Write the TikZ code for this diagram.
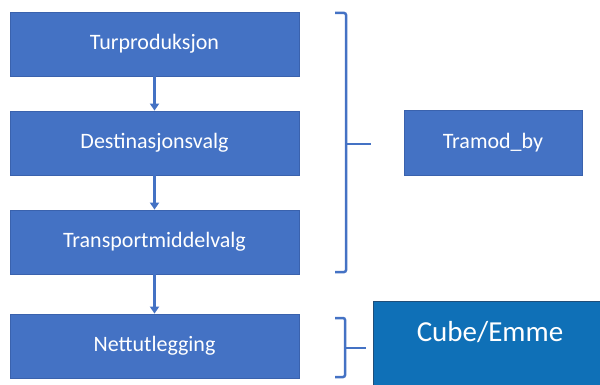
\documentclass[tikz,border=0pt]{standalone}
\usepackage{fontspec}
\setmainfont{Carlito}
\usetikzlibrary{arrows.meta}
\definecolor{boxblue}{HTML}{4472C4}
\definecolor{boxedge}{HTML}{3A62AD}
\definecolor{cubeblue}{HTML}{0F70B7}
\definecolor{cubeedge}{HTML}{1F4E79}
\begin{document}
\begin{tikzpicture}[x=1pt,y=-1pt,
  stepbox/.style={draw=boxedge,line width=0.8pt,fill=boxblue,text=white,font=\fontsize{22}{26}\selectfont,minimum width=289pt,minimum height=64pt,inner sep=0pt},
  flow/.style={draw=boxblue,line width=3pt,-{Triangle[width=9pt,length=7pt]}},
  brace/.style={draw=boxblue,line width=2.5pt,rounded corners=2pt}]
\useasboundingbox (0,0) rectangle (600,385);
\node[stepbox] (tur) at (154.5,44) {Turproduksjon};
\node[stepbox] (dest) at (154.5,143) {Destinasjonsvalg};
\node[stepbox] (trans) at (154.5,242) {Transportmiddelvalg};
\node[stepbox] (nett) at (154.5,346) {Nettutlegging};
\node[stepbox,minimum width=178pt,minimum height=65pt] (tramod) at (493,142.5) {Tramod\_by};
\begin{scope}
\clip (0,0) rectangle (600,385);
\node[draw=cubeedge,line width=0.8pt,fill=cubeblue,minimum width=240pt,minimum height=90pt,inner sep=0pt,anchor=north west] (cube) at (373,301) {};
\end{scope}
\node[text=white,font=\fontsize{29}{34}\selectfont,inner sep=0pt] (cubelbl) at (490,332) {Cube/Emme};
\draw[flow] (tur.south) -- (dest.north);
\draw[flow] (dest.south) -- (trans.north);
\draw[flow] (trans.south) -- (nett.north);
\coordinate (b1t) at (335,13);
\coordinate (b1b) at (335,272);
\coordinate (b1m) at (371,144);
\draw[brace] (b1t) -- (346,13) -- (346,272) -- (b1b);
\draw[brace] (346,144) -- (b1m);
\coordinate (b2t) at (335,318);
\coordinate (b2b) at (335,377);
\coordinate (b2m) at (366,348);
\draw[brace] (b2t) -- (345,318) -- (345,377) -- (b2b);
\draw[brace] (345,348) -- (b2m);
\end{tikzpicture}
\end{document}
